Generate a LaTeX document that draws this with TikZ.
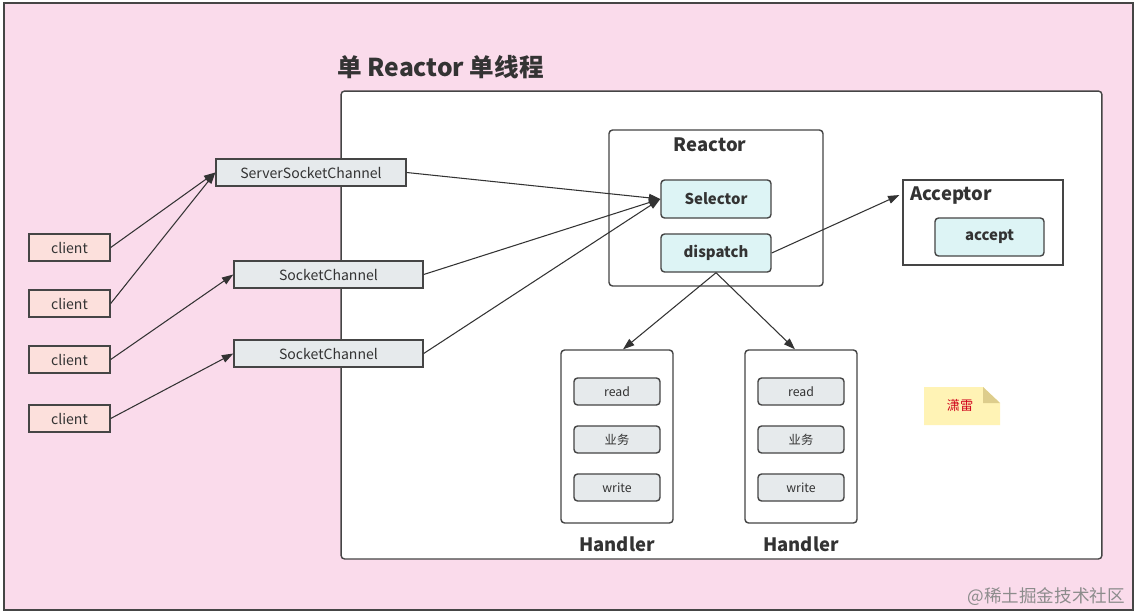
\documentclass[tikz,border=0pt]{standalone}
\usepackage{fontspec}
\setmainfont{Noto Sans CJK SC}
\usetikzlibrary{positioning,arrows.meta}

\definecolor{bgpink}{HTML}{FADBEB}
\definecolor{boxline}{HTML}{454545}
\definecolor{txt}{HTML}{333333}
\definecolor{chanfill}{HTML}{E6EAEC}
\definecolor{clifill}{HTML}{FCE0DC}
\definecolor{cyanfill}{HTML}{DDF4F5}
\definecolor{notefill}{HTML}{FFF3B5}
\definecolor{notefold}{HTML}{DDCD8C}
\definecolor{notered}{HTML}{D0021B}

\tikzstyle{chan} = [rectangle, draw=boxline, fill=chanfill, line width=0.8pt, minimum height=0.54cm, inner sep=0pt, text=txt, font=\fontsize{8}{10}\selectfont]
\tikzstyle{cli} = [rectangle, draw=boxline, fill=clifill, line width=0.8pt, minimum width=1.62cm, minimum height=0.54cm, inner sep=0pt, text=txt, font=\fontsize{8}{10}\selectfont]
\tikzstyle{group} = [rectangle, rounded corners=2pt, draw=boxline, fill=white, line width=0.8pt, inner sep=0pt]
\tikzstyle{core} = [rectangle, rounded corners=2pt, draw=boxline, fill=cyanfill, line width=0.8pt, minimum width=2.2cm, minimum height=0.76cm, inner sep=0pt, text=txt, font=\fontsize{8.5}{10}\selectfont\bfseries]
\tikzstyle{op} = [rectangle, rounded corners=2pt, draw=boxline, fill=chanfill, line width=0.8pt, minimum width=1.72cm, minimum height=0.54cm, inner sep=0pt, text=txt, font=\fontsize{7}{9}\selectfont]
\tikzstyle{heading} = [text=txt, inner sep=0pt, font=\fontsize{10.5}{12}\selectfont\bfseries]
\tikzstyle{arrow} = [draw=txt, line width=0.6pt, -{Triangle[length=6.5pt,width=4.5pt]}]

\begin{document}
\begin{tikzpicture}[x=0.02cm, y=-0.02cm]

\useasboundingbox (0,0) rectangle (1136,613);
\draw [line width=1pt, draw=boxline, fill=bgpink] (4,3) rectangle (1133,610);

\node (title) [anchor=west, text=txt, inner sep=0pt, font=\fontsize{14}{16}\selectfont\bfseries] at (337,67) {单 Reactor 单线程};
\node (stage) [group, minimum width=15.22cm, minimum height=9.36cm] at (721.5,325) {};

% clients and channels
\node (cli1) [cli] at (69.5,247.5) {client};
\node (cli2) [cli] at (69.5,303.5) {client};
\node (cli3) [cli] at (69.5,359.5) {client};
\node (cli4) [cli] at (69.5,418.5) {client};

\node (ssc) [chan, minimum width=3.8cm] at (311,172.5) {ServerSocketChannel};
\node (sc1) [chan, minimum width=3.78cm] at (328.5,274.5) {SocketChannel};
\node (sc2) [chan, minimum width=3.78cm] at (328.5,353.5) {SocketChannel};

% reactor
\node (reactor) [group, minimum width=4.28cm, minimum height=3.12cm] at (716,208) {};
\node (rtitle) [heading] at (710,145) {Reactor};
\node (selector) [core] at (716,199) {Selector};
\node (dispatch) [core] at (716,253) {dispatch};

% acceptor
\node (acceptor) [group, rounded corners=0pt, line width=0.6pt, minimum width=3.2cm, minimum height=1.7cm] at (983,222.5) {};
\node (atitle) [heading, anchor=west] at (910,196) {Acceptor};
\node (accept) [core, minimum width=2.18cm] at (989.5,237) {accept};

% handlers
\node (hand1) [group, minimum width=2.24cm, minimum height=3.46cm] at (617,436.5) {};
\node (read1) [op] at (617,391.5) {read};
\node (biz1) [op] at (617,439.5) {业务};
\node (write1) [op] at (617,487.5) {write};
\node (hlab1) [heading, below=0.26cm of hand1] {Handler};

\node (hand2) [group, minimum width=2.24cm, minimum height=3.46cm] at (801,436.5) {};
\node (read2) [op] at (801,391.5) {read};
\node (biz2) [op] at (801,439.5) {业务};
\node (write2) [op] at (801,487.5) {write};
\node (hlab2) [heading, below=0.26cm of hand2] {Handler};

% note
\fill [notefill] (924,387) -- (983,387) -- (1000,403) -- (1000,425) -- (924,425) -- cycle;
\fill [notefold] (983,387) -- (1000,403) -- (983,403) -- cycle;
\node (author) [text=notered, font=\fontsize{7.5}{9}\selectfont] at (960,406) {潇雷};

\node (mark) [anchor=east, text=black!45, font=\fontsize{10}{12}\selectfont] at (1131,597) {@稀土掘金技术社区};

\draw [arrow] (cli1.east) -- (ssc.west);
\draw [arrow] (cli2.east) -- (ssc.west);
\draw [arrow] (cli3.east) -- (sc1.west);
\draw [arrow] (cli4.east) -- (sc2.west);
\draw [arrow] (ssc.east) -- (selector.west);
\draw [arrow] (sc1.east) -- (selector.west);
\draw [arrow] (sc2.east) -- (selector.west);
\draw [arrow] (dispatch.east) -- ([xshift=-0.06cm, yshift=0.55cm]acceptor.west);
\draw [arrow] (dispatch.south) -- ([xshift=0.12cm]hand1.north);
\draw [arrow] (dispatch.south) -- ([xshift=-0.12cm]hand2.north);

\end{tikzpicture}
\end{document}
